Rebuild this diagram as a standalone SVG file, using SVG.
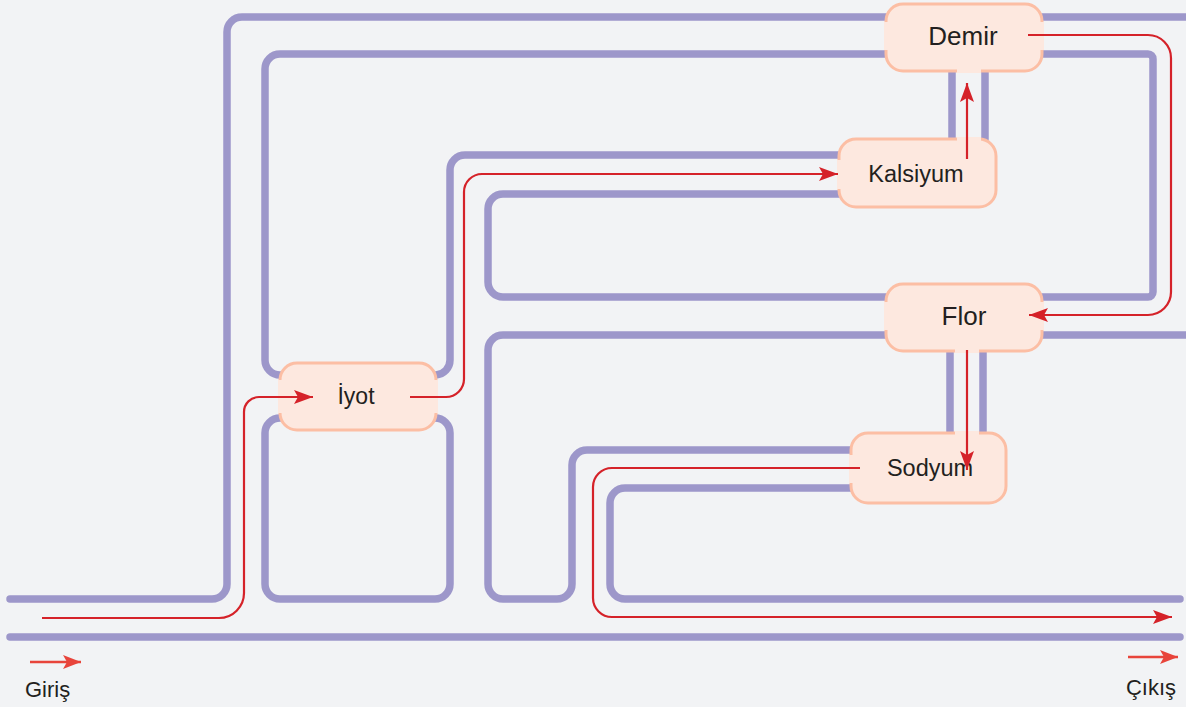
<svg xmlns="http://www.w3.org/2000/svg" width="1186" height="707" viewBox="0 0 1186 707">
<style>
.pipe{fill:none;stroke:#9d97ca;stroke-width:7.5;stroke-linecap:round;stroke-linejoin:round}
.flow{fill:none;stroke:#d52229;stroke-width:2.2}
.box{fill:#fde8df;stroke:#fcbea4;stroke-width:3}
.gap{fill:#fde8df}
.lbl{font-family:"Liberation Sans",Arial,sans-serif;fill:#231f20;text-anchor:middle}
.leg{fill:none;stroke:#e8443b;stroke-width:2.5}
.legt{font-family:"Liberation Sans",Arial,sans-serif;fill:#231f20;font-size:22px}
</style>
<defs>
<marker id="ah" markerUnits="userSpaceOnUse" markerWidth="19" markerHeight="14" refX="19" refY="7" orient="auto">
<path d="M0,0 L19,7 L0,14 L4,7 z" fill="#d52229"/>
</marker>
<marker id="ahl" markerUnits="userSpaceOnUse" markerWidth="18" markerHeight="14" refX="18" refY="7" orient="auto">
<path d="M0,0 L18,7 L0,14 L4,7 z" fill="#e8443b"/>
</marker>
</defs>
<rect width="1186" height="707" fill="#f2f3f5"/>
<g id="pipes">
<path class="pipe" d="M10,599 H212 A15,15 0 0 0 227,584 V32 A15,15 0 0 1 242,17 H887"/>
<path class="pipe" d="M887,54 H280 A15,15 0 0 0 265,69 V360 A15,15 0 0 0 280,375"/>
<path class="pipe" d="M280,418 A15,15 0 0 0 265,433 V584 A15,15 0 0 0 280,599 H435 A15,15 0 0 0 450,584 V433 A15,15 0 0 0 435,418"/>
<path class="pipe" d="M436,375 A15,15 0 0 0 450,360 V170 A15,15 0 0 1 465,155 H840"/>
<path class="pipe" d="M840,194 H503 A15,15 0 0 0 488,209 V282 A15,15 0 0 0 503,297 H887"/>
<path class="pipe" d="M887,335 H503 A15,15 0 0 0 488,350 V584 A15,15 0 0 0 503,599 H557 A15,15 0 0 0 572,584 V465 A15,15 0 0 1 587,450 H852"/>
<path class="pipe" d="M852,488 H625 A15,15 0 0 0 610,503 V584 A15,15 0 0 0 625,599 H1180"/>
<path class="pipe" d="M10,637 H1180"/>
<path class="pipe" d="M1041,17 H1190"/>
<path class="pipe" d="M1041,54 H1148 A5,5 0 0 1 1153,59 V292 A5,5 0 0 1 1148,297 H1041"/>
<path class="pipe" d="M1041,335 H1190"/>
<path class="pipe" d="M952,71 V139 M985,71 V139"/>
<path class="pipe" d="M950,351 V433 M983,351 V433"/>
</g>
<g id="demir">
<rect class="box" x="886" y="4" width="156" height="67" rx="17"/>
<rect class="gap" x="884" y="22" width="5" height="28"/>
<rect class="gap" x="1039" y="22" width="5" height="28"/>
<rect class="gap" x="957" y="69" width="24" height="4"/>
<text class="lbl" x="963" y="45" font-size="26">Demir</text>
</g>
<g id="kalsiyum">
<rect class="box" x="839" y="139" width="157" height="68" rx="17"/>
<rect class="gap" x="837" y="160" width="5" height="29"/>
<rect class="gap" x="957" y="137" width="24" height="4"/>
<text class="lbl" x="916" y="182" font-size="23.5">Kalsiyum</text>
</g>
<g id="flor">
<rect class="box" x="886" y="284" width="156" height="67" rx="17"/>
<rect class="gap" x="884" y="302" width="5" height="28"/>
<rect class="gap" x="1039" y="302" width="5" height="28"/>
<rect class="gap" x="955" y="349" width="24" height="4"/>
<text class="lbl" x="964" y="325" font-size="26">Flor</text>
</g>
<g id="sodyum">
<rect class="box" x="851" y="433" width="155" height="70" rx="17"/>
<rect class="gap" x="849" y="455" width="5" height="28"/>
<rect class="gap" x="955" y="431" width="24" height="4"/>
<text class="lbl" x="930" y="476" font-size="23.5">Sodyum</text>
</g>
<g id="iyot">
<rect class="box" x="280" y="363" width="156" height="67" rx="17"/>
<rect class="gap" x="278" y="380" width="5" height="33"/>
<rect class="gap" x="433" y="380" width="5" height="33"/>
<text class="lbl" x="356" y="404" font-size="23">İyot</text>
</g>
<g id="flow">
<path class="flow" marker-end="url(#ah)" d="M42,618 H219 A25,25 0 0 0 244,593 V412 A15,15 0 0 1 259,397 H313"/>
<path class="flow" marker-end="url(#ah)" d="M410,397 H446 A18,18 0 0 0 464,379 V192 A18,18 0 0 1 482,174 H838"/>
<path class="flow" marker-end="url(#ah)" d="M967,159 V83"/>
<path class="flow" marker-end="url(#ah)" d="M1028,35 H1148 A23,23 0 0 1 1171,58 V292 A23,23 0 0 1 1148,315 H1029"/>
<path class="flow" marker-end="url(#ah)" d="M967,350 V470"/>
<path class="flow" marker-end="url(#ah)" d="M860,468 H612 A19,19 0 0 0 593,487 V598 A19,19 0 0 0 612,617 H1172"/>
</g>
<g id="legend">
<path class="leg" marker-end="url(#ahl)" d="M30,662 H81"/>
<text class="legt" x="25" y="697">Giriş</text>
<path class="leg" marker-end="url(#ahl)" d="M1128,657 H1178"/>
<text class="legt" x="1176" y="695" text-anchor="end">Çıkış</text>
</g>
</svg>
